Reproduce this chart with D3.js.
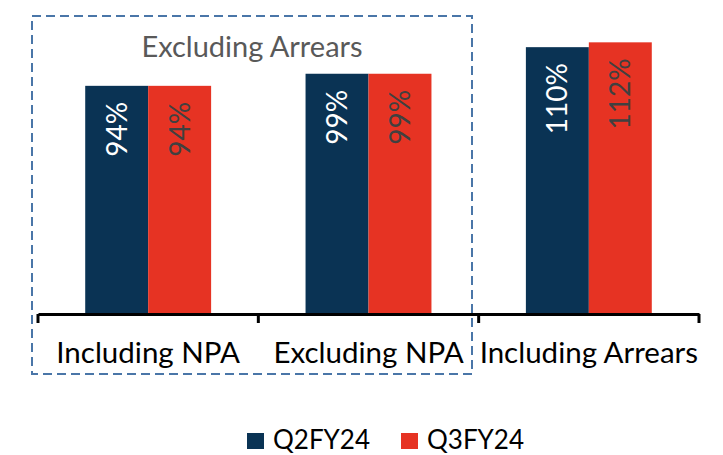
<!DOCTYPE html>
<html>
<head>
<meta charset="utf-8">
<script src="https://cdn.jsdelivr.net/npm/d3@7"></script>
<style>
  body { margin: 0; background: #fff; }
  text { font-family: Lato, "Open Sans", sans-serif; }
</style>
</head>
<body>
<script>
// data
var categories = ['Including NPA', 'Excluding NPA', 'Including Arrears'];
var seriesNames = ['Q2FY24', 'Q3FY24'];
var q2Values = [94, 99, 110];
var q3Values = [94, 99, 112];
var colors = ['#0a3354', '#e63323'];
var labelColors = ['#ffffff', '#404040'];

var width = 723, height = 455;
var margin = {left: 38, right: 24, baseline: 313};

var svg = d3.select('body').append('svg')
    .attr('width', width)
    .attr('height', height);

//x scales
var x0 = d3.scaleBand().domain(categories)
    .range([margin.left, width - margin.right])
    .paddingInner(0).paddingOuter(0);
var x1 = d3.scaleBand().domain(seriesNames)
    .range([0, x0.bandwidth()])
    .paddingInner(0).paddingOuter(0.75);

//y scale: 0..120%
var y = d3.scaleLinear().domain([0, 120]).range([margin.baseline, margin.baseline - 290]);

var rows = categories.map(function(c, i) {
    return {cat: c, vals: [q2Values[i], q3Values[i]]};
});

var groups = svg.selectAll('g.grp').data(rows).enter().append('g')
    .attr('class', 'grp')
    .attr('transform', function(d) { return 'translate(' + x0(d.cat) + ',0)'; });

groups.selectAll('rect').data(function(d) {
        return d.vals.map(function(v, j) { return {s: seriesNames[j], v: v, j: j}; });
    }).enter().append('rect')
    .attr('x', function(d) { return x1(d.s); })
    .attr('y', function(d) { return y(d.v); })
    .attr('width', x1.bandwidth())
    .attr('height', function(d) { return y(0) - y(d.v); })
    .attr('fill', function(d) { return colors[d.j]; });

groups.selectAll('text.val').data(function(d) {
        return d.vals.map(function(v, j) { return {s: seriesNames[j], v: v, j: j}; });
    }).enter().append('text')
    .attr('class', 'val')
    .attr('transform', function(d) {
        var cx = x1(d.s) + x1.bandwidth() / 2;
        return 'translate(' + cx + ',' + (y(d.v) + 16) + ') rotate(-90)';
    })
    .attr('text-anchor', 'end')
    .attr('dy', '0.36em')
    .attr('font-size', 28)
    .attr('fill', function(d) { return labelColors[d.j]; })
    .text(function(d) { return d.v + '%'; });

//x axis
var xAxis = d3.axisBottom(x0).tickValues([]).tickSizeOuter(0);
var axisG = svg.append('g').attr('transform', 'translate(0,' + (margin.baseline + 1) + ')').call(xAxis);
axisG.select('.domain').attr('stroke', '#000').attr('stroke-width', 3);

var edges = categories.map(function(c) { return x0(c); }).concat([x0.range()[1]]);
axisG.selectAll('line.edge').data(edges).enter().append('line')
    .attr('class', 'edge')
    .attr('x1', function(d) { return d; }).attr('x2', function(d) { return d; })
    .attr('y1', 0).attr('y2', 9)
    .attr('stroke', '#000').attr('stroke-width', 3);

axisG.selectAll('text.cat').data(categories).enter().append('text')
    .attr('class', 'cat')
    .attr('x', function(d) { return x0(d) + x0.bandwidth() / 2; })
    .attr('y', 49)
    .attr('text-anchor', 'middle')
    .attr('font-size', 29.5)
    .attr('fill', '#000')
    .text(function(d) { return d; });

//dashed box round the first two categories
svg.append('rect')
    .attr('x', 32).attr('y', 16)
    .attr('width', 440).attr('height', 358)
    .attr('fill', 'none')
    .attr('stroke', '#4a76a8')
    .attr('stroke-width', 2)
    .attr('stroke-dasharray', '9,5');

svg.append('text')
    .attr('x', 252).attr('y', 57)
    .attr('text-anchor', 'middle')
    .attr('font-size', 29)
    .attr('fill', '#595959')
    .text('Excluding Arrears');

//legend
var legend = svg.append('g').attr('transform', 'translate(247,433)');
var li = legend.selectAll('g').data(seriesNames).enter().append('g')
    .attr('transform', function(d, i) { return 'translate(' + (i * 154) + ',0)'; });
li.append('rect').attr('width', 17).attr('height', 16)
    .attr('fill', function(d, i) { return colors[i]; });
li.append('text').attr('x', 26).attr('y', 16)
    .attr('font-size', 26)
    .attr('fill', '#000')
    .text(function(d) { return d; });
</script>
</body>
</html>
